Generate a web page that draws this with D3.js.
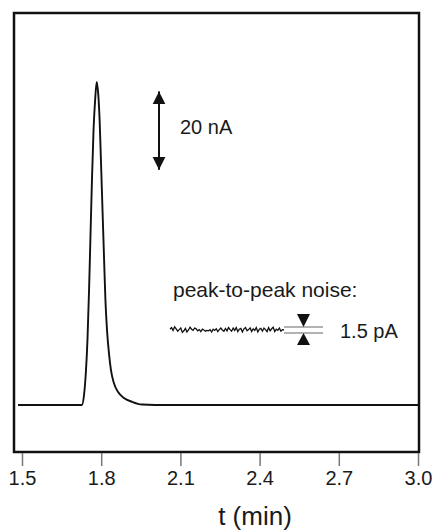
<!DOCTYPE html>
<html>
<head>
<meta charset="utf-8">
<script src="https://cdn.jsdelivr.net/npm/d3@7"></script>
<style>
  body { margin: 0; background: #fff; }
  text { font-family: "Liberation Sans", Arial, sans-serif; fill: #1a1a1a; }
</style>
</head>
<body>
<div id="chart"></div>
<script>
// chromatogram trace (t in min, current in nA)
const traceT = [1.485, 1.727, 1.735, 1.742, 1.748, 1.754, 1.759, 1.765, 1.771, 1.777, 1.783,
  1.789, 1.794, 1.799, 1.805, 1.811, 1.816, 1.822, 1.830, 1.837, 1.848, 1.864, 1.886, 1.917,
  1.955, 2.004, 3.0];
const traceI = [0, 0, 2.6, 8.4, 16.6, 29.3, 42.1, 57.4, 70.2, 77.8, 82.4,
  79.1, 72.7, 62.5, 49.7, 37.0, 26.8, 19.1, 12.8, 8.9, 5.6, 3.3, 1.8, 0.8,
  0.1, 0, 0];

// zoomed baseline noise (pA), hand read
const noisePA = [0.2, 0.6, -0.1, 0.8, 0.3, -0.3, 0.1, 0.5, -0.6, -0.2, 0.4, -0.5, 0.0, 0.7,
  0.2, -0.1, 0.5, 0.3, -0.2, 0.1, -0.4, 0.2, 0.0, -0.3, -0.1, -0.2, 0.1, -0.5, 0.2, -0.1,
  0.3, -0.4, 0.1, 0.5, 0.0, -0.3, 0.4, -0.2, 0.6, 0.1, -0.3, 0.5, -0.1, 0.6, -0.4, 0.2,
  0.4, -0.5, 0.3, 0.6, -0.2, 0.1, 0.5, -0.4, 0.3, -0.1, 0.6, -0.5, 0.2, 0.4, -0.3, 0.5,
  0.1, -0.4, 0.6, -0.2, 0.3, 0.7, -0.4, 0.2, -0.1, 0.5, -0.3, 0.1, 0.0];
const noiseBand = [-0.75, 0.75];

const xTicks = [1.5, 1.8, 2.1, 2.4, 2.7, 3.0];
const scaleBar = { t: 2.019, from: 60, to: 80, label: "20 nA" };

const W = 435, H = 531;
const margin = { top: 13, right: 16, bottom: 79, left: 14 };

const svg = d3.select("#chart").append("svg")
  .attr("width", W).attr("height", H);

const x = d3.scaleLinear().domain([1.5, 3.0]).range([22, 418]);
const y = d3.scaleLinear().domain([-12, 100]).range([H - margin.bottom, margin.top]);

// trace
const line = d3.line()
  .x((d, i) => x(traceT[i]))
  .y((d, i) => y(traceI[i]))
  .curve(d3.curveMonotoneX);
svg.append("path")
  .datum(traceI)
  .attr("d", line)
  .attr("fill", "none")
  .attr("stroke", "#111")
  .attr("stroke-width", 1.9);

// frame
svg.append("rect")
  .attr("x", margin.left).attr("y", margin.top)
  .attr("width", W - margin.left - margin.right)
  .attr("height", H - margin.top - margin.bottom)
  .attr("fill", "none")
  .attr("stroke", "#111")
  .attr("stroke-width", 2.5);

// x axis
const xAxis = svg.append("g")
  .attr("transform", "translate(0," + (H - margin.bottom + 1) + ")")
  .call(d3.axisBottom(x).tickValues(xTicks).tickFormat(d3.format(".1f")).tickSize(13).tickPadding(5));
xAxis.select(".domain").remove();
xAxis.selectAll(".tick line").attr("stroke", "#777").attr("stroke-width", 1.5);
xAxis.selectAll(".tick text")
  .style("font-family", "'Liberation Sans', Arial, sans-serif")
  .style("font-size", "20px")
  .attr("fill", "#1a1a1a");

svg.append("text")
  .attr("x", 255).attr("y", 525)
  .attr("text-anchor", "middle")
  .style("font-size", "26px")
  .text("t (min)");

// 20 nA scale bar
const defs = svg.append("defs");
defs.append("marker")
  .attr("id", "head")
  .attr("viewBox", "0 0 10 10")
  .attr("refX", 10).attr("refY", 5)
  .attr("markerWidth", 13).attr("markerHeight", 17)
  .attr("markerUnits", "userSpaceOnUse")
  .attr("orient", "auto-start-reverse")
  .append("path")
  .attr("d", "M0,0 L10,5 L0,10 Z")
  .attr("fill", "#111");

svg.append("line")
  .attr("x1", x(scaleBar.t)).attr("x2", x(scaleBar.t))
  .attr("y1", y(scaleBar.from)).attr("y2", y(scaleBar.to))
  .attr("stroke", "#111")
  .attr("stroke-width", 2)
  .attr("marker-start", "url(#head)")
  .attr("marker-end", "url(#head)");
svg.append("text")
  .attr("x", 180).attr("y", 134)
  .style("font-size", "20px")
  .text(scaleBar.label);

// noise inset
svg.append("text")
  .attr("x", 173).attr("y", 297)
  .style("font-size", "21px")
  .text("peak-to-peak noise:");

const nx = d3.scaleLinear().domain([0, noisePA.length - 1]).range([170, 284]);
const ny = d3.scaleLinear().domain(noiseBand).range([333, 327]);
svg.append("path")
  .datum(noisePA)
  .attr("d", d3.line().x((d, i) => nx(i)).y(d => ny(d)))
  .attr("fill", "none")
  .attr("stroke", "#111")
  .attr("stroke-width", 1.3);

noiseBand.forEach(v => {
  svg.append("line")
    .attr("x1", 284).attr("x2", 323)
    .attr("y1", ny(v)).attr("y2", ny(v))
    .attr("stroke", "#999")
    .attr("stroke-width", 1.3);
});
const cx = 303.5;
svg.append("path")
  .attr("d", `M${cx - 6.5},${ny(0.75) - 13} L${cx + 6.5},${ny(0.75) - 13} L${cx},${ny(0.75)} Z`)
  .attr("fill", "#111");
svg.append("path")
  .attr("d", `M${cx - 6.5},${ny(-0.75) + 12} L${cx + 6.5},${ny(-0.75) + 12} L${cx},${ny(-0.75)} Z`)
  .attr("fill", "#111");
svg.append("text")
  .attr("x", 340).attr("y", 338)
  .style("font-size", "20px")
  .text("1.5 pA");
</script>
</body>
</html>
